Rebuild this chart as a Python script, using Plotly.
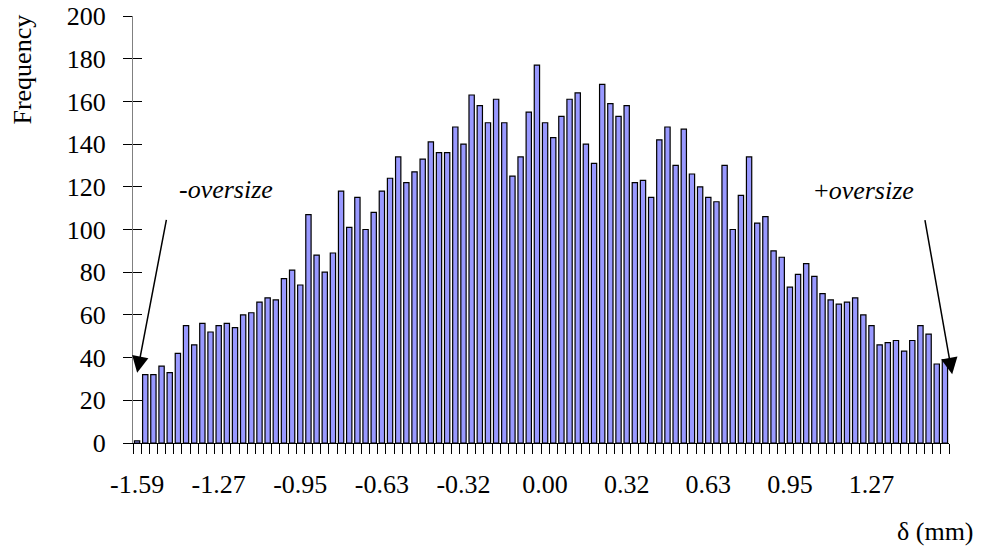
import numpy as np
import plotly.graph_objects as go

# ---- data ----
bin_start = -1.5875          # centre of first bin (mm)
bin_width = 0.03175          # mm
frequency = [1, 32, 32, 36, 33, 42, 55, 46, 56, 52,
             55, 56, 54, 60, 61, 66, 68, 67, 77, 81,
             74, 107, 88, 80, 89, 118, 101, 115, 100, 108,
             118, 124, 134, 122, 127, 133, 141, 136, 136, 148,
             140, 163, 158, 150, 161, 150, 125, 134, 155, 177,
             150, 143, 153, 161, 164, 140, 131, 168, 159, 153,
             158, 122, 123, 115, 142, 148, 130, 147, 126, 120,
             115, 113, 130, 100, 116, 134, 103, 106, 90, 87,
             73, 79, 84, 78, 70, 67, 65, 66, 68, 60,
             55, 46, 47, 48, 43, 48, 55, 51, 37, 39]
tick_labels = ["-1.59", "-1.27", "-0.95", "-0.63", "-0.32",
               "0.00", "0.32", "0.63", "0.95", "1.27"]
y_ticks = list(range(0, 201, 20))

centres = bin_start + bin_width * np.arange(len(frequency))
tick_positions = centres[::10][:len(tick_labels)]
x_range = [centres[0] - bin_width / 2, centres[-1] + bin_width / 2]

FONT = "Liberation Serif, Times New Roman, serif"
FS = 26

fig = go.Figure()
fig.add_trace(go.Bar(
    x=centres, y=frequency,
    marker=dict(color="#9999FF", line=dict(color="black", width=1.2)),
    showlegend=False, hoverinfo="x+y",
))
# helper trace so the overlay axis (crossing ticks) is drawn
fig.add_trace(go.Scatter(x=[None], y=[None], yaxis="y2", showlegend=False,
                         hoverinfo="skip"))

fig.update_layout(
    width=983, height=552,
    margin=dict(l=133, r=34, t=16, b=109, autoexpand=False),
    paper_bgcolor="white", plot_bgcolor="white",
    font=dict(family=FONT, size=FS, color="black"),
    bargap=0.35,
    xaxis=dict(
        range=x_range,
        tickmode="array", tickvals=tick_positions, ticktext=tick_labels,
        ticks="", showgrid=False, zeroline=False,
        showline=True, linecolor="black", linewidth=1,
        ticklabelstandoff=18, automargin=False,
        minor=dict(ticks="outside", ticklen=10, tickwidth=1, tickcolor="black",
                   tickmode="linear", tick0=x_range[0], dtick=bin_width,
                   showgrid=False),
        tickfont=dict(family=FONT, size=FS),
    ),
    yaxis=dict(
        range=[0, 200], tickmode="array", tickvals=y_ticks,
        ticks="outside", ticklen=9, tickwidth=1, tickcolor="black",
        showgrid=False, zeroline=False, automargin=False,
        showline=True, linecolor="#808080", linewidth=1,
        ticklabelstandoff=12,
        tickfont=dict(family=FONT, size=FS),
    ),
    yaxis2=dict(
        range=[0, 200], overlaying="y", side="left",
        tickmode="array", tickvals=y_ticks, automargin=False,
        ticks="inside", ticklen=9, tickwidth=1, tickcolor="black",
        showticklabels=False, showgrid=False, zeroline=False, showline=False,
    ),
    annotations=[
        dict(text="Frequency", xref="paper", yref="paper", x=-0.1358, y=0.875,
             textangle=-90, showarrow=False, font=dict(family=FONT, size=FS),
             xanchor="center", yanchor="middle"),
        dict(text="δ (mm)", xref="paper", yref="paper", x=0.9834, y=-0.207,
             showarrow=False, font=dict(family=FONT, size=FS),
             xanchor="center", yanchor="middle"),
        dict(text="<i>-oversize</i>", xref="paper", yref="paper", x=0.1136, y=0.594,
             showarrow=False, font=dict(family=FONT, size=FS),
             xanchor="center", yanchor="middle"),
        dict(text="+<i>oversize</i>", xref="paper", yref="paper", x=0.8963, y=0.592,
             showarrow=False, font=dict(family=FONT, size=FS),
             xanchor="center", yanchor="middle"),
        dict(text="", xref="paper", yref="paper", x=0.0051, y=0.1644,
             ax=29.5, ay=-154.5, showarrow=True, arrowhead=2, arrowsize=2.2,
             arrowwidth=1.5, arrowcolor="black"),
        dict(text="", xref="paper", yref="paper", x=1.0039, y=0.161,
             ax=-27.5, ay=-155.7, showarrow=True, arrowhead=2, arrowsize=2.2,
             arrowwidth=1.5, arrowcolor="black"),
    ],
)

fig.write_html("out.html",
               config={"displayModeBar": False},
               post_script="document.body.style.margin='0';"
                           "document.body.style.overflow='hidden';")
